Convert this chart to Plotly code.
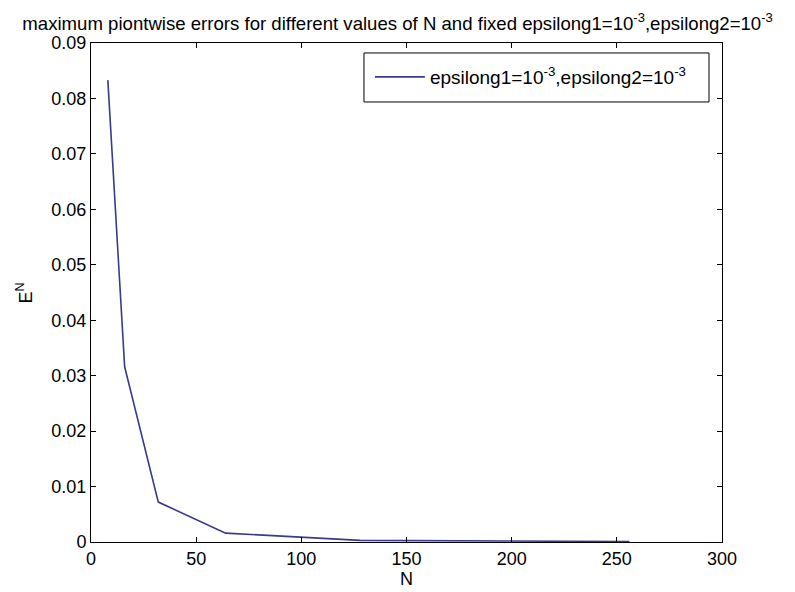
import plotly.graph_objects as go

N_values = [8, 16, 32, 64, 128, 256]
errors = [0.0833, 0.0316, 0.0072, 0.0016, 0.0003, 0.00008]
y_ticks = [0, 0.01, 0.02, 0.03, 0.04, 0.05, 0.06, 0.07, 0.08, 0.09]
y_tick_labels = ["0", "0.01", "0.02", "0.03", "0.04", "0.05", "0.06", "0.07", "0.08", "0.09"]
x_ticks = [0, 50, 100, 150, 200, 250, 300]

font_fam = "Liberation Sans, Arial, sans-serif"

fig = go.Figure()
fig.add_trace(go.Scatter(
    x=N_values, y=errors, mode="lines",
    line=dict(color="#3a3a8c", width=1.6),
    name="epsilong1=10<sup>-3</sup>,epsilong2=10<sup>-3</sup>",
))

axis_common = dict(
    showgrid=False, zeroline=False, showline=True, linecolor="black", linewidth=1,
    mirror="ticks", ticks="inside", ticklen=5, tickcolor="black",
    tickfont=dict(family=font_fam, size=18, color="black"),
)

# page body has an 8px default margin, so the figure is 8px smaller and offset
fig.update_layout(
    width=787, height=584,
    paper_bgcolor="white", plot_bgcolor="white",
    margin=dict(l=83, r=73, t=35, b=50),
    title=dict(
        text="maximum piontwise errors for different values of N and fixed epsilong1=10<sup>-3</sup>,epsilong2=10<sup>-3</sup>",
        x=0.495, xanchor="center", xref="container", yref="container", y=0.973, yanchor="middle",
        font=dict(family=font_fam, size=18.6, color="black"),
    ),
    xaxis=dict(range=[0, 300], tickvals=x_ticks, **axis_common),
    yaxis=dict(range=[0, 0.09], tickvals=y_ticks, ticktext=y_tick_labels, **axis_common),
    showlegend=True,
    legend=dict(
        x=0.442, y=0.9319, xanchor="left", yanchor="middle",
        bgcolor="rgba(0,0,0,0)", borderwidth=0,
        font=dict(family=font_fam, size=19, color="black"),
        itemwidth=50,
    ),
    shapes=[dict(type="rect", xref="paper", yref="paper",
                 x0=0.4326, x1=0.9794, y0=0.8818, y1=0.98,
                 line=dict(color="black", width=1), fillcolor="white", layer="below")],
    annotations=[
        dict(text="N", xref="paper", yref="paper", x=0.5, y=-0.0741,
             xanchor="center", yanchor="middle", showarrow=False,
             font=dict(family=font_fam, size=18, color="black")),
        dict(text="E<sup>N</sup>", xref="paper", yref="paper", x=-0.1046, y=0.5,
             xanchor="center", yanchor="middle", showarrow=False, textangle=-90,
             font=dict(family=font_fam, size=18, color="black")),
    ],
)

fig.write_html("out.html")
